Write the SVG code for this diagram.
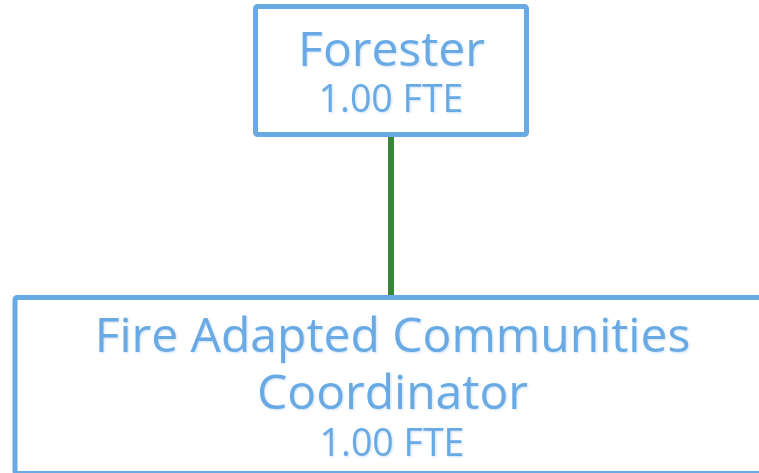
<svg xmlns="http://www.w3.org/2000/svg" width="759" height="473" viewBox="0 0 759 473">
<defs>
<style>
.box{fill:#ffffff;stroke:#6aaae4;stroke-width:5}
.t{font-family:"Open Sans","Noto Sans",sans-serif;fill:#6aaae4;text-anchor:middle}
.big{font-size:48px}
.small{font-size:37.5px}
.conn{stroke:#3a853a;stroke-width:6;fill:none}
</style>
<filter id="sh" x="-10%" y="-20%" width="120%" height="140%">
<feDropShadow dx="1" dy="1" stdDeviation="1" flood-color="#6aaae4" flood-opacity="0.35"/>
</filter>
</defs>
<g id="connectors">
<line class="conn" x1="391" y1="134" x2="391" y2="296"/>
</g>
<g id="node-forester">
<rect class="box" x="255.5" y="6.5" width="271" height="128" rx="2"/>
<text class="t big" x="391.5" y="66" filter="url(#sh)">Forester</text>
<text class="t small" x="391" y="111.5" filter="url(#sh)">1.00 FTE</text>
</g>
<g id="node-coordinator">
<rect class="box" x="15" y="297.5" width="752" height="176" rx="2"/>
<text class="t big" x="392.5" y="352" filter="url(#sh)">Fire Adapted Communities</text>
<text class="t big" x="392.5" y="409" filter="url(#sh)">Coordinator</text>
<text class="t small" x="392" y="456" filter="url(#sh)">1.00 FTE</text>
</g>
</svg>
